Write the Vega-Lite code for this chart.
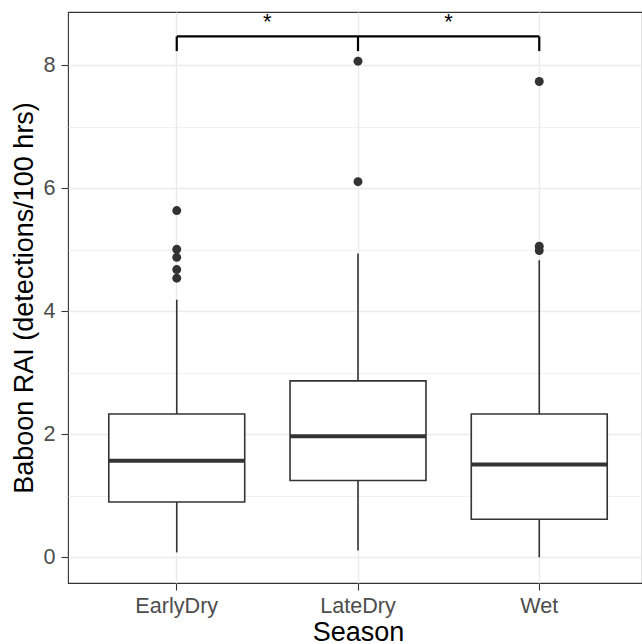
{
  "$schema": "https://vega.github.io/schema/vega-lite/v6.json",
  "width": 574,
  "height": 571,
  "autosize": {"type": "none"},
  "padding": {"left": 68, "top": 12, "right": 0, "bottom": 61},
  "background": "white",
  "config": {
    "view": {"stroke": "#333333", "strokeWidth": 1.1},
    "font": "Liberation Sans",
    "axis": {"domain": false, "titleFontWeight": "normal", "titleColor": "black", "labelColor": "#4D4D4D", "tickColor": "#333333", "tickWidth": 1.1, "tickSize": 7, "gridColor": "#EBEBEB", "labelFont": "Liberation Sans", "titleFont": "Liberation Sans"}
  },
  "datasets": {
    "boxes": [
      {"Season": "EarlyDry", "lower": 0.08, "q1": 0.90, "median": 1.57, "q3": 2.33, "upper": 4.19},
      {"Season": "LateDry", "lower": 0.11, "q1": 1.25, "median": 1.97, "q3": 2.87, "upper": 4.94},
      {"Season": "Wet", "lower": 0.0, "q1": 0.62, "median": 1.51, "q3": 2.33, "upper": 4.83}
    ],
    "outliers": [
      {"Season": "EarlyDry", "value": 5.64},
      {"Season": "EarlyDry", "value": 5.01},
      {"Season": "EarlyDry", "value": 4.88},
      {"Season": "EarlyDry", "value": 4.68},
      {"Season": "EarlyDry", "value": 4.54},
      {"Season": "LateDry", "value": 8.07},
      {"Season": "LateDry", "value": 6.11},
      {"Season": "Wet", "value": 7.74},
      {"Season": "Wet", "value": 5.06},
      {"Season": "Wet", "value": 4.99}
    ],
    "bracket": [{"from": "EarlyDry", "to": "Wet", "y": 8.472}],
    "bticks": [
      {"Season": "EarlyDry", "y": 8.472, "y2": 8.234},
      {"Season": "LateDry", "y": 8.472, "y2": 8.234},
      {"Season": "Wet", "y": 8.472, "y2": 8.234}
    ],
    "stars": [
      {"Season": "EarlyDry", "label": "*", "y": 8.6},
      {"Season": "LateDry", "label": "*", "y": 8.6}
    ]
  },
  "layer": [
    {
      "data": {"name": "boxes"},
      "mark": {"type": "rule", "color": "#333333", "strokeWidth": 1.6},
      "encoding": {
        "x": {
          "field": "Season", "type": "nominal",
          "scale": {"type": "band", "domain": ["EarlyDry", "LateDry", "Wet"], "range": [0, 580], "paddingInner": 0.25, "paddingOuter": 0.225},
          "axis": {"title": "Season", "titleX": 290, "labelAngle": 0, "labelFontSize": 21.6, "labelPadding": 5, "titleFontSize": 27, "titlePadding": 3, "grid": true, "gridWidth": 1.4, "bandPosition": 0.5}
        },
        "y": {
          "field": "lower", "type": "quantitative",
          "scale": {"domain": [-0.418, 8.87], "nice": false, "zero": false},
          "axis": {
            "title": "Baboon RAI (detections/100 hrs)",
            "values": [0, 1, 2, 3, 4, 5, 6, 7, 8],
            "format": "d",
            "labelExpr": "datum.value % 2 == 0 ? datum.label : ''",
            "tickOpacity": {"condition": {"test": "datum.value % 2 == 1", "value": 0}, "value": 1},
            "gridWidth": {"condition": {"test": "datum.value % 2 == 1", "value": 0.7}, "value": 1.4},
            "labelFontSize": 21.6, "labelPadding": 6, "titleFontSize": 27, "titlePadding": 4, "grid": true
          }
        },
        "y2": {"field": "upper"}
      }
    },
    {
      "data": {"name": "boxes"},
      "mark": {"type": "bar", "fill": "white", "stroke": "#333333", "strokeWidth": 1.6},
      "encoding": {
        "x": {"field": "Season", "type": "nominal"},
        "y": {"field": "q1", "type": "quantitative"},
        "y2": {"field": "q3"}
      }
    },
    {
      "data": {"name": "boxes"},
      "mark": {"type": "bar", "fill": "#333333", "stroke": "#333333", "strokeWidth": 4},
      "encoding": {
        "x": {"field": "Season", "type": "nominal"},
        "y": {"field": "median", "type": "quantitative"},
        "y2": {"field": "median"}
      }
    },
    {
      "data": {"name": "outliers"},
      "mark": {"type": "point", "filled": true, "color": "#333333", "opacity": 1, "size": 80},
      "encoding": {
        "x": {"field": "Season", "type": "nominal"},
        "y": {"field": "value", "type": "quantitative"}
      }
    },
    {
      "data": {"name": "bracket"},
      "mark": {"type": "rule", "color": "black", "strokeWidth": 2.2},
      "encoding": {
        "x": {"field": "from", "type": "nominal"},
        "x2": {"field": "to"},
        "y": {"field": "y", "type": "quantitative"}
      }
    },
    {
      "data": {"name": "bticks"},
      "mark": {"type": "rule", "color": "black", "strokeWidth": 2.2},
      "encoding": {
        "x": {"field": "Season", "type": "nominal"},
        "y": {"field": "y", "type": "quantitative"},
        "y2": {"field": "y2"}
      }
    },
    {
      "data": {"name": "stars"},
      "mark": {"type": "text", "fontSize": 22, "dx": 90.65, "baseline": "alphabetic", "align": "center", "color": "black", "font": "Liberation Sans"},
      "encoding": {
        "x": {"field": "Season", "type": "nominal"},
        "y": {"field": "y", "type": "quantitative"},
        "text": {"field": "label"}
      }
    }
  ]
}
